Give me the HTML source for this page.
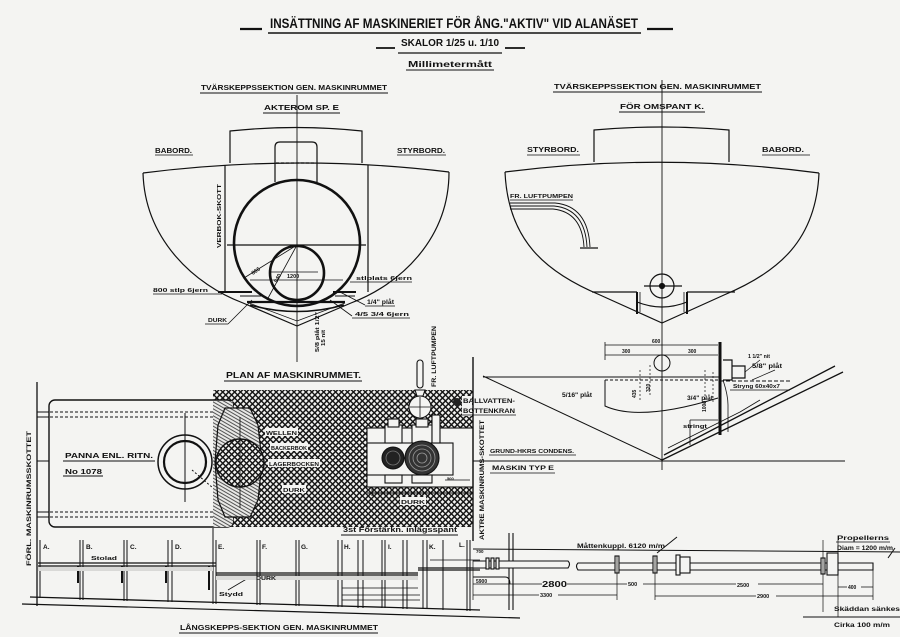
<!DOCTYPE html>
<html><head><meta charset="utf-8"><style>
html,body{margin:0;padding:0;background:#f4f4f2;}
svg{display:block;}
text{font-family:"Liberation Sans",sans-serif;font-weight:bold;fill:#111;}
</style></head><body>
<svg width="900" height="637" viewBox="0 0 900 637" xmlns="http://www.w3.org/2000/svg">
<defs>
<pattern id="h" width="4.2" height="4.2" patternUnits="userSpaceOnUse" patternTransform="rotate(45)">
<rect width="4.2" height="4.2" fill="#f4f4f2"/>
<path d="M0,2.1H4.2M2.1,0V4.2" stroke="#151515" stroke-width="1.5"/>
</pattern>
<pattern id="s" width="3" height="3" patternUnits="userSpaceOnUse" patternTransform="rotate(30)">
<rect width="3" height="3" fill="#e8e8e6"/>
<path d="M0,1.5H3" stroke="#444" stroke-width="0.9"/>
</pattern>
</defs>
<rect width="900" height="637" fill="#f4f4f2"/>

<!-- ===== TITLES ===== -->
<g stroke="#111" fill="none">
<path d="M240,29H262M647,29H673" stroke-width="2.2"/>
<path d="M268,33H641" stroke-width="1.6"/>
<path d="M376,48H395M505,48H525" stroke-width="1.8"/>
<path d="M398,53H502" stroke-width="1.2"/>
<path d="M406,70H494" stroke-width="1"/>
<path d="M200,93H388M263,113H340M553,92H762M619,112H705" stroke-width="1.1"/>
</g>
<text x="270" y="28" font-size="13.5" textLength="368" lengthAdjust="spacingAndGlyphs">INSÄTTNING AF MASKINERIET FÖR ÅNG."AKTIV" VID ALANÄSET</text>
<text x="401" y="46" font-size="10" textLength="98" lengthAdjust="spacingAndGlyphs">SKALOR 1/25 u. 1/10</text>
<text x="408" y="67" font-size="8" textLength="84" lengthAdjust="spacingAndGlyphs">Millimetermått</text>
<text x="201" y="90" font-size="7.5" textLength="186" lengthAdjust="spacingAndGlyphs">TVÄRSKEPPSSEKTION GEN. MASKINRUMMET</text>
<text x="264" y="110" font-size="7.5" textLength="75" lengthAdjust="spacingAndGlyphs">AKTEROM SP. E</text>
<text x="554" y="89" font-size="7.5" textLength="207" lengthAdjust="spacingAndGlyphs">TVÄRSKEPPSSEKTION GEN. MASKINRUMMET</text>
<text x="620" y="109" font-size="7.5" textLength="84" lengthAdjust="spacingAndGlyphs">FÖR OMSPANT K.</text>

<!-- ===== LEFT TRANSVERSE SECTION ===== -->
<g stroke="#111" fill="none" stroke-width="1.2">
<path d="M297,95V362" stroke-width="0.9"/>
<path d="M230,163V131Q296,124 362,131V163"/>
<path d="M143,173Q297,153.5 449,172"/>
<path d="M143,173C145,240 195,285 243,303L297,326L351,303C399,285 449,240 449,172"/>
<path d="M249,303L297,321L345,303" stroke-width="0.8"/>
<path d="M225,165V292M368,165V292"/>
<path d="M275,182V147Q275,142 280,142H312Q317,142 317,147V182"/>
<path d="M276,163H316" stroke-dasharray="3,2"/>
<circle cx="297" cy="243" r="63" stroke-width="2.6"/>
<circle cx="297" cy="273" r="27" stroke-width="2.6"/>
<path d="M227,245H366"/>
<path d="M250,280H343" stroke-width="0.8"/>
<path d="M297,245L244,278M297,245L267,300" stroke-width="0.8"/>
<path d="M270,272H318" stroke-width="0.8"/>
<path d="M218,292H252M333,292H356" stroke-width="2"/>
<path d="M247,302H345" stroke-width="2.2"/>
<path d="M250,305Q297,318 344,305" stroke-width="1.5"/>
<path d="M240,296H262M335,296H355" stroke-width="1"/>
<path d="M153,294H222M350,282H412M365,306H395M340,292L365,305M352,318H410M330,300L352,316M205,324H228M228,324L252,300" stroke-width="0.8"/>
</g>
<text x="155" y="153" font-size="7" textLength="37" lengthAdjust="spacingAndGlyphs">BABORD.</text>
<path d="M155,155H193M397,155H446" stroke="#111" stroke-width="0.8"/>
<text x="397" y="153" font-size="7" textLength="48" lengthAdjust="spacingAndGlyphs">STYRBORD.</text>
<text transform="translate(221,248) rotate(-90)" font-size="5.5" textLength="64" lengthAdjust="spacingAndGlyphs">VERBOK-SKOTT</text>
<text x="287" y="278" font-size="5.5">1200</text>
<text transform="translate(253,275) rotate(-35)" font-size="5.5">866</text>
<text transform="translate(277,283) rotate(-62)" font-size="5.5">940</text>
<text x="153" y="292" font-size="5.5" textLength="55" lengthAdjust="spacingAndGlyphs">800 stlp 6jern</text>
<text x="356" y="280" font-size="5.5" textLength="56" lengthAdjust="spacingAndGlyphs">stlplats 6jern</text>
<text x="367" y="304" font-size="6" textLength="27" lengthAdjust="spacingAndGlyphs">1/4" plåt</text>
<text x="355" y="316" font-size="5.5" textLength="54" lengthAdjust="spacingAndGlyphs">4/5 3/4 6jern</text>
<text x="208" y="322" font-size="5.5" textLength="19" lengthAdjust="spacingAndGlyphs">DURK</text>
<text transform="translate(319,352) rotate(-90)" font-size="5" textLength="40" lengthAdjust="spacingAndGlyphs">5/8 plåt 1/2"</text>
<text transform="translate(325,346) rotate(-90)" font-size="5" textLength="16" lengthAdjust="spacingAndGlyphs">15 nit</text>

<!-- ===== RIGHT TRANSVERSE SECTION ===== -->
<g stroke="#111" fill="none" stroke-width="1.2">
<path d="M662,80V470" stroke-width="0.9"/>
<path d="M594,162V130Q661,124 729,130V162"/>
<path d="M505,172Q662,152 819,173"/>
<path d="M505,172C508,240 545,272 600,295L662,323L724,295C779,272 816,240 819,173"/>
<path d="M592,292H637M687,292H735"/>
<path d="M637,292V314M687,292V314" stroke-width="2"/>
<path d="M640,292V312M684,292V312" stroke-width="0.8"/>
<path d="M637,302Q662,312 687,302"/>
<circle cx="662" cy="286" r="12"/>
<circle cx="662" cy="286" r="2.5" fill="#111"/>
<path d="M644,286H682"/>
<path d="M510,203H555Q588,206 590,247M510,206H554Q585,209 587,247M510,209H553Q582,212 584,247" stroke-width="0.9"/>
<path d="M580,248H598"/>
<path d="M510,200H573" stroke-width="0.8"/>
</g>
<text x="527" y="152" font-size="7" textLength="52" lengthAdjust="spacingAndGlyphs">STYRBORD.</text>
<text x="762" y="152" font-size="7" textLength="42" lengthAdjust="spacingAndGlyphs">BABORD.</text>
<path d="M527,155H580M762,155H810" stroke="#111" stroke-width="0.8"/>
<text x="510" y="198" font-size="5.5" textLength="63" lengthAdjust="spacingAndGlyphs">FR. LUFTPUMPEN</text>

<!-- lower right detail -->
<g stroke="#111" fill="none" stroke-width="1">
<path d="M483,376L662,460"/>
<path d="M483,377H720"/>
<path d="M720,381H790" stroke-dasharray="4,2"/>
<path d="M662,460L843,372M664,455L835,366" stroke-width="1.3"/>
<path d="M668,448L740,412M740,412L760,400" stroke-width="0.8"/>
<path d="M37,461H845" stroke-width="1"/>
<path d="M605,345H718M605,355H718M605,342V360" stroke-width="0.8"/>
<circle cx="662" cy="363" r="8"/>
<path d="M605,380H718" stroke-dasharray="3,2"/>
<path d="M605,380V406Q640,422 718,398"/>
<path d="M720,342V435" stroke-width="3"/>
<path d="M723,360H732V380H723M732,366H745V378H732" stroke-width="1.2"/>
<path d="M723,380Q728,395 728,405V432" stroke-width="0.8"/>
<path d="M640,370V400M650,365V395M705,370V405M713,372V402" stroke-width="0.7" stroke-dasharray="2,2"/>
<path d="M690,420V445M690,420H718" stroke-width="0.8"/>
<path d="M745,372L760,360M752,380L775,370M730,390H790" stroke-width="0.7"/>
</g>
<text x="652" y="343" font-size="5">600</text>
<text x="622" y="353" font-size="5">300</text>
<text x="688" y="353" font-size="5">300</text>
<text x="562" y="397" font-size="6" textLength="30" lengthAdjust="spacingAndGlyphs">5/16" plåt</text>
<text x="687" y="400" font-size="6" textLength="26" lengthAdjust="spacingAndGlyphs">3/4" plåt</text>
<text x="748" y="358" font-size="5.5" textLength="22" lengthAdjust="spacingAndGlyphs">1 1/2" nit</text>
<text x="752" y="368" font-size="6" textLength="30" lengthAdjust="spacingAndGlyphs">5/8" plåt</text>
<text x="733" y="388" font-size="5.5" textLength="47" lengthAdjust="spacingAndGlyphs">Stryng 60x40x7</text>
<text x="683" y="428" font-size="5" textLength="24" lengthAdjust="spacingAndGlyphs">stringt</text>
<text transform="translate(636,398) rotate(-90)" font-size="5">435</text>
<text transform="translate(650,392) rotate(-90)" font-size="5">320</text>
<text transform="translate(706,412) rotate(-90)" font-size="5">1000</text>

<!-- ===== PLAN VIEW ===== -->
<text x="226" y="378" font-size="8.5" textLength="135" lengthAdjust="spacingAndGlyphs">PLAN AF MASKINRUMMET.</text>
<path d="M224,381H362" stroke="#111" stroke-width="1"/>
<path d="M213,390H473V527H213Z" fill="url(#h)"/>
<!-- boiler -->
<rect x="49" y="400" width="184" height="127" rx="6" fill="#f4f4f2" stroke="#111" stroke-width="1.4"/>
<path d="M213,401H232Q233,401 233,406V521Q233,527 227,527H213Z" fill="url(#s)"/>
<g stroke="#111" fill="none" stroke-width="1">
<path d="M37,382V606" stroke-width="1.3"/>
<path d="M50,412H213M50,417H213M50,512H213M50,517H213" stroke-dasharray="3,2"/>
<path d="M37,412H49M37,417H49M37,512H49M37,517H49"/>
<circle cx="185" cy="462" r="27" stroke-width="1.5"/>
<circle cx="185" cy="462" r="21" stroke-width="2.2"/>
<path d="M185,413V502"/>
<path d="M192,470L213,488" stroke-dasharray="2,2"/>
</g>
<text x="65" y="458" font-size="7.5" textLength="88" lengthAdjust="spacingAndGlyphs">PANNA ENL. RITN.</text>
<path d="M63,461H155M63,476H103" stroke="#111" stroke-width="1"/>
<text x="65" y="474" font-size="7" textLength="37" lengthAdjust="spacingAndGlyphs">No 1078</text>
<!-- coupling / thrust -->
<path d="M225,408H250L258,425L262,462L258,500L250,517H225L218,500L215,462L218,425Z" fill="url(#s)" stroke="#111" stroke-width="1.2"/>
<circle cx="240" cy="463" r="24" fill="url(#h)" stroke="#111" stroke-width="1.4"/>
<path d="M240,417V508" stroke="#111" stroke-width="0.8"/>
<!-- labels in hatch -->
<g>
<rect x="265" y="428" width="33" height="8" fill="#f4f4f2"/>
<text x="266" y="435" font-size="5.5" textLength="31" lengthAdjust="spacingAndGlyphs">WELLEN</text>
<rect x="270" y="443" width="38" height="8" fill="#f4f4f2"/>
<text x="271" y="450" font-size="5.5" textLength="36" lengthAdjust="spacingAndGlyphs">BACKERBOK</text>
<rect x="268" y="459" width="52" height="8" fill="#f4f4f2"/>
<text x="269" y="466" font-size="5.5" textLength="50" lengthAdjust="spacingAndGlyphs">LAGERBOCKEN</text>
<rect x="282" y="485" width="24" height="8" fill="#f4f4f2"/>
<text x="283" y="492" font-size="5.5" textLength="22" lengthAdjust="spacingAndGlyphs">DURK</text>
<rect x="400" y="497" width="26" height="8" fill="#f4f4f2"/>
<text x="401" y="504" font-size="5.5" textLength="24" lengthAdjust="spacingAndGlyphs">DURK</text>
</g>
<!-- engine -->
<g stroke="#111" stroke-width="1.1">
<rect x="367" y="428" width="106" height="59" fill="#f4f4f2"/>
<rect x="367" y="443" width="86" height="32" fill="#f4f4f2"/>
<rect x="385" y="425" width="17" height="18" fill="#f4f4f2"/>
<rect x="388" y="419" width="11" height="8" fill="#f4f4f2"/>
<rect x="412" y="425" width="20" height="18" fill="#f4f4f2"/>
<rect x="416" y="419" width="12" height="8" fill="#f4f4f2"/>
<rect x="432" y="415" width="8" height="28" fill="#f4f4f2"/>
<rect x="385" y="475" width="17" height="8" fill="#f4f4f2"/>
<rect x="412" y="475" width="20" height="8" fill="#f4f4f2"/>
<circle cx="420" cy="407" r="11" fill="#f4f4f2"/>
<path d="M410,407H430M420,397V417" fill="none" stroke-width="0.8"/>
<rect x="417" y="360" width="6" height="28" rx="3" fill="#f4f4f2"/>
<path d="M415,390H425L423,396H417Z" fill="#f4f4f2"/>
<circle cx="393" cy="458" r="11" fill="#222"/>
<circle cx="393" cy="458" r="7" fill="none" stroke="#777" stroke-width="0.8"/>
<circle cx="422" cy="458" r="17" fill="#333"/>
<circle cx="422" cy="458" r="13" fill="none" stroke="#999" stroke-width="0.8"/>
<circle cx="422" cy="458" r="9" fill="none" stroke="#999" stroke-width="0.8"/>
<circle cx="422" cy="458" r="5" fill="none" stroke="#999" stroke-width="0.8"/>
<path d="M372,487V496M367,493H473" fill="none" stroke-width="0.9"/>
<path d="M445,480H470" fill="none" stroke-width="0.8"/>
</g>
<text x="447" y="480" font-size="4" >500</text>
<circle cx="457" cy="402" r="4" fill="#222"/>
<rect x="462" y="396" width="10" height="20" fill="#f4f4f2"/>
<text x="463" y="403" font-size="6" textLength="52" lengthAdjust="spacingAndGlyphs">BALLVATTEN-</text>
<text x="463" y="413" font-size="6" textLength="52" lengthAdjust="spacingAndGlyphs">BOTTENKRAN</text>
<path d="M462,415H516" stroke="#111" stroke-width="0.8"/>
<path d="M473,357V541" stroke="#111" stroke-width="1.4"/>
<text transform="translate(436,387) rotate(-90)" font-size="6" textLength="61" lengthAdjust="spacingAndGlyphs">FR. LUFTPUMPEN</text>
<text transform="translate(484,540) rotate(-90)" font-size="6" textLength="120" lengthAdjust="spacingAndGlyphs">AKTRE MASKINRUMS-SKOTTET</text>
<text transform="translate(31,566) rotate(-90)" font-size="6.5" textLength="135" lengthAdjust="spacingAndGlyphs">FÖRL. MASKINRUMSSKOTTET</text>
<text x="490" y="453" font-size="5.5" textLength="84" lengthAdjust="spacingAndGlyphs">GRUND-HKRS CONDENS.</text>
<path d="M489,455H576" stroke="#111" stroke-width="0.8"/>
<text x="492" y="470" font-size="6" textLength="62" lengthAdjust="spacingAndGlyphs">MASKIN TYP E</text>
<path d="M490,473H555" stroke="#111" stroke-width="0.8"/>

<!-- ===== LONGITUDINAL SECTION ===== -->
<text x="343" y="532" font-size="7.5" textLength="114" lengthAdjust="spacingAndGlyphs">3st Förstärkn. inlägsspant</text>
<path d="M341,535H458" stroke="#111" stroke-width="1"/>
<g stroke="#111" fill="none" stroke-width="1">
<path d="M40,540V598M80,540V600M83,540V600M124,540V601M127,540V601M168,540V602M172,540V602M213,528V604M216,540V604M257,540V605M260,540V605M296,540V606M299,540V606M338,540V607M342,540V607M358,540V608M363,540V608M382,540V608M385,540V608M403,540V609M407,540V609M423,540V609M427,540V609M443,540V610M467,540V611M470,540V611"/>
<path d="M38,563H216M38,566H216" stroke-width="1.3"/>
<path d="M216,573H418M216,575H418" stroke-width="1.3"/>
<path d="M418,568H480M418,570H480" stroke-width="1.2"/>
<path d="M430,560H480" stroke-width="0.8"/>
<path d="M342,595H420M342,600H420M342,588H418" stroke-width="0.8"/>
<path d="M30,597L480,610" stroke-width="1.3"/>
<path d="M22,604L520,618" stroke-width="1.2"/>
<path d="M122,566V583M166,566V583M78,566V583M209,566V590" stroke-width="2"/>
<path d="M358,576V598M382,576V598M403,576V598M423,576V598" stroke-dasharray="3,2"/>
<path d="M509,533V610M513,533V610" stroke-width="1.1"/>
<path d="M473,577H505Q510,577 510,584" stroke-width="0.9"/>
<path d="M228,590L250,577M250,577H270" stroke-width="0.8"/>
</g>
<path d="M38,567H213V571H38Z" fill="#d9d9d7"/>
<path d="M216,576H418V580H216Z" fill="#d9d9d7"/>
<g font-size="6.5">
<text x="43" y="549">A.</text><text x="86" y="549">B.</text><text x="130" y="549">C.</text><text x="175" y="549">D.</text><text x="218" y="549">E.</text><text x="262" y="549">F.</text><text x="301" y="549">G.</text><text x="344" y="549">H.</text><text x="388" y="549">I.</text><text x="429" y="549">K.</text><text x="459" y="547">L.</text>
</g>
<text x="91" y="560" font-size="5.5" textLength="26" lengthAdjust="spacingAndGlyphs">Stolad</text>
<text x="256" y="580" font-size="5.5" textLength="20" lengthAdjust="spacingAndGlyphs">DURK</text>
<text x="219" y="596" font-size="5.5" textLength="24" lengthAdjust="spacingAndGlyphs">Stydd</text>
<text x="180" y="630" font-size="7.5" textLength="198" lengthAdjust="spacingAndGlyphs">LÅNGSKEPPS-SEKTION GEN. MASKINRUMMET</text>
<path d="M179,633H378" stroke="#111" stroke-width="1"/>
<text x="476" y="553" font-size="4.5">700</text>
<text x="476" y="583" font-size="5">5900</text>

<!-- shaft -->
<g stroke="#111" fill="#f4f4f2" stroke-width="1.1">
<path d="M473,549L900,552" fill="none" stroke-width="1"/>
<path d="M473,561H568Q571,564 568,568H473" />
<path d="M578,563H873V570H578Q575,566 578,563Z"/>
<rect x="486" y="558" width="3" height="11"/>
<rect x="491" y="558" width="3" height="11"/>
<rect x="496" y="558" width="3" height="11"/>
<rect x="615" y="556" width="4" height="17"/>
<rect x="653" y="556" width="4" height="17"/>
<rect x="676" y="555" width="4" height="20"/>
<rect x="680" y="557" width="10" height="16"/>
<rect x="821" y="558" width="4" height="16"/>
<rect x="827" y="553" width="11" height="22"/>
<path d="M617,556V600M655,556V600M823,540V612M838,540V617M873,570V600M473,560V600" fill="none" stroke-width="0.7"/>
<path d="M473,584H542M567,584H617M617,584H627M643,584H655M655,584H736M758,584H823M838,587H847M861,587H873" fill="none" stroke-width="0.7"/>
<path d="M473,595H539M558,595H617M655,596H756M776,596H873" fill="none" stroke-width="0.7"/>
<path d="M657,553L677,537M888,558L895,548" fill="none" stroke-width="1"/>
<path d="M803,617H900" fill="none" stroke-width="1"/>
</g>
<text x="542" y="587" font-size="8" textLength="25" lengthAdjust="spacingAndGlyphs">2800</text>
<text x="540" y="597" font-size="5.5">3300</text>
<text x="628" y="586" font-size="5.5">500</text>
<text x="737" y="587" font-size="5.5">2500</text>
<text x="757" y="598" font-size="5.5">2900</text>
<text x="848" y="589" font-size="5">400</text>
<text x="577" y="548" font-size="6" textLength="88" lengthAdjust="spacingAndGlyphs">Måttenkuppl. 6120 m/m</text>
<text x="837" y="540" font-size="6" textLength="52" lengthAdjust="spacingAndGlyphs">Propellerns</text>
<path d="M836,542H890" stroke="#111" stroke-width="0.8"/>
<text x="837" y="550" font-size="6" textLength="56" lengthAdjust="spacingAndGlyphs">Diam = 1200 m/m</text>
<text x="834" y="611" font-size="6.5" textLength="66" lengthAdjust="spacingAndGlyphs">Skäddan sänkes</text>
<text x="834" y="627" font-size="6" textLength="56" lengthAdjust="spacingAndGlyphs">Cirka 100 m/m</text>
</svg>
</body></html>
